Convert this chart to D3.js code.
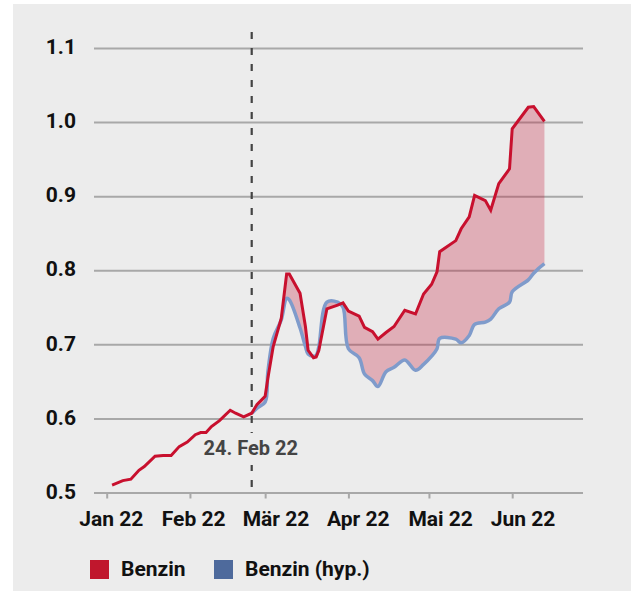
<!DOCTYPE html>
<html>
<head>
<meta charset="utf-8">
<script src="https://cdn.jsdelivr.net/npm/d3@7"></script>
<style>
  body { margin: 0; background: #fff; font-family: Roboto, "Noto Sans", sans-serif; }
</style>
</head>
<body>
<svg id="chart" width="631" height="592"></svg>
<script>
const dates = [
  "2022-01-03", "2022-01-07", "2022-01-10", "2022-01-13", "2022-01-15", "2022-01-19",
  "2022-01-22", "2022-01-25", "2022-01-28", "2022-01-31", "2022-02-03", "2022-02-05",
  "2022-02-07", "2022-02-09", "2022-02-12", "2022-02-16", "2022-02-18", "2022-02-21",
  "2022-02-24", "2022-02-26", "2022-03-01", "2022-03-02", "2022-03-04", "2022-03-07",
  "2022-03-09", "2022-03-10", "2022-03-14", "2022-03-16", "2022-03-17", "2022-03-19",
  "2022-03-20", "2022-03-21", "2022-03-24", "2022-03-28", "2022-03-30", "2022-04-01",
  "2022-04-05", "2022-04-07", "2022-04-10", "2022-04-12", "2022-04-15", "2022-04-18",
  "2022-04-22", "2022-04-26", "2022-04-29", "2022-05-02", "2022-05-04", "2022-05-05",
  "2022-05-11", "2022-05-13", "2022-05-16", "2022-05-18", "2022-05-22", "2022-05-24",
  "2022-05-27", "2022-05-31", "2022-06-01", "2022-06-07", "2022-06-09", "2022-06-13"
];

const benzin = [
  0.510, 0.516, 0.518, 0.530, 0.535, 0.549,
  0.550, 0.550, 0.562, 0.568, 0.578, 0.581,
  0.581, 0.589, 0.597, 0.611, 0.607, 0.602,
  0.607, 0.619, 0.630, 0.654, 0.697, 0.735,
  0.795, 0.795, 0.769, 0.724, 0.692, 0.682,
  0.683, 0.692, 0.748, 0.753, 0.756, 0.745,
  0.738, 0.723, 0.717, 0.707, 0.716, 0.724,
  0.746, 0.741, 0.768, 0.781, 0.798, 0.825,
  0.840, 0.856, 0.872, 0.901, 0.894, 0.881,
  0.917, 0.937, 0.991, 1.020, 1.021, 1.001
];

// hypothetical series starts on 24 Feb
const benzinHyp = [
  null, null, null, null, null, null,
  null, null, null, null, null, null,
  null, null, null, null, null, null,
  0.607, 0.614, 0.622, 0.662, 0.708, 0.733,
  0.762, 0.760, 0.722, 0.697, 0.687, 0.684,
  0.685, 0.697, 0.757, 0.757, 0.750, 0.694,
  0.682, 0.660, 0.651, 0.643, 0.663, 0.669,
  0.679, 0.665, 0.673, 0.684, 0.694, 0.708,
  0.707, 0.702, 0.712, 0.727, 0.730, 0.734,
  0.748, 0.757, 0.771, 0.787, 0.796, 0.809
];

const yTicks = [0.5, 0.6, 0.7, 0.8, 0.9, 1.0, 1.1];
const monthTicks = ["2022-01-01", "2022-02-01", "2022-03-01", "2022-04-01", "2022-05-01", "2022-06-01"];
const monthLabels = ["Jan 22", "Feb 22", "Mär 22", "Apr 22", "Mai 22", "Jun 22"];
const seriesNames = ["Benzin", "Benzin (hyp.)"];
const eventDate = "2022-02-24";
const eventLabel = "24. Feb 22";

const parse = d3.timeParse("%Y-%m-%d");
const red = "#c8102e";
const blue = "#7f9bcb";
const bg = "#ececec";

const rows = dates.map(function(d, i) {
  return { date: parse(d), v: benzin[i], h: benzinHyp[i] };
});
const hypRows = rows.filter(function(d) { return d.h != null; });

const gridLeft = 94, gridRight = 583;

let svg = d3.select("#chart");

svg.append("rect")
  .attr("x", 13).attr("y", 4)
  .attr("width", 618).attr("height", 587)
  .attr("fill", bg);

// X scale (time)
let x = d3.scaleTime()
  .domain([parse(monthTicks[0]), parse(monthTicks[5])])
  .range([106.7, 512.2]);

// month labels sit on an even grid of their own
let xLabel = d3.scalePoint()
  .domain(monthLabels)
  .range([110.8, 522.5]);

// Y scale
let y = d3.scaleLinear()
  .domain([0.5, 1.1])
  .range([492.5, 48]);

// Y axis with grid lines
let yAxis = svg.append("g")
  .attr("transform", "translate(" + gridLeft + ",0)")
  .call(d3.axisLeft(y)
    .tickValues(yTicks)
    .tickFormat(d3.format(".1f"))
    .tickSize(-(gridRight - gridLeft))
    .tickPadding(18));
yAxis.select(".domain").remove();
yAxis.selectAll("line").attr("stroke", "#a8a8a8").attr("stroke-width", 2);
yAxis.selectAll("text")
  .attr("dy", "0.27em")
  .style("font-family", "Roboto")
  .style("font-weight", "bold")
  .style("font-size", "21px")
  .style("fill", "#111");

// X axis ticks
let xAxis = svg.append("g")
  .attr("transform", "translate(0," + y(0.5) + ")")
  .call(d3.axisBottom(x)
    .tickValues(monthTicks.map(parse))
    .tickFormat("")
    .tickSize(6));
xAxis.select(".domain").remove();
xAxis.selectAll("line").attr("stroke", "#a8a8a8").attr("stroke-width", 2);

// X axis labels
let xLabels = svg.append("g")
  .attr("transform", "translate(0," + y(0.5) + ")")
  .call(d3.axisBottom(xLabel)
    .tickSize(0)
    .tickPadding(19));
xLabels.select(".domain").remove();
xLabels.selectAll("text")
  .style("font-family", "Roboto")
  .style("font-weight", "bold")
  .style("font-size", "21px")
  .style("fill", "#111");

// Gap area between both series
let redLine = d3.line()
  .x(function(d) { return x(d.date); })
  .y(function(d) { return y(d.v); });
let blueLine = d3.line()
  .curve(d3.curveCatmullRom.alpha(0.5))
  .x(function(d) { return x(d.date); })
  .y(function(d) { return y(d.h); });

let back = blueLine(hypRows.slice().reverse());
svg.append("path")
  .attr("d", redLine(hypRows) + "L" + back.slice(1) + "Z")
  .attr("fill", "#c41e3a")
  .attr("fill-opacity", 0.3);

// Lines
svg.append("path")
  .datum(hypRows)
  .attr("d", blueLine)
  .attr("fill", "none")
  .attr("stroke", blue)
  .attr("stroke-width", 3.5);

svg.append("path")
  .datum(rows)
  .attr("d", redLine)
  .attr("fill", "none")
  .attr("stroke", red)
  .attr("stroke-width", 3)
  .attr("stroke-linejoin", "miter");

// Event marker
let ex = x(parse(eventDate));
svg.append("line")
  .attr("x1", ex).attr("x2", ex)
  .attr("y1", 32).attr("y2", y(0.5))
  .attr("stroke", "#444")
  .attr("stroke-width", 2.2)
  .attr("stroke-dasharray", "7,9");

svg.append("rect")
  .attr("x", ex - 6).attr("y", 433)
  .attr("width", 12).attr("height", 32)
  .attr("fill", bg);

svg.append("text")
  .attr("x", ex - 1).attr("y", 455)
  .style("text-anchor", "middle")
  .style("font-family", "Roboto")
  .style("font-weight", "bold")
  .style("font-size", "20px")
  .style("fill", "#444")
  .text(eventLabel);

// Legend
let legend = svg.append("g");
let legendX = [90, 214];
let legendColors = ["#c0172d", "#4e6a9c"];
seriesNames.forEach(function(name, i) {
  legend.append("rect")
    .attr("x", legendX[i]).attr("y", 560)
    .attr("width", 19).attr("height", 19)
    .attr("fill", legendColors[i]);
  legend.append("text")
    .attr("x", legendX[i] + 31).attr("y", 576)
    .style("font-family", "Roboto")
    .style("font-weight", "bold")
    .style("font-size", "21px")
    .style("fill", "#111")
    .text(name);
});
</script>
</body>
</html>
